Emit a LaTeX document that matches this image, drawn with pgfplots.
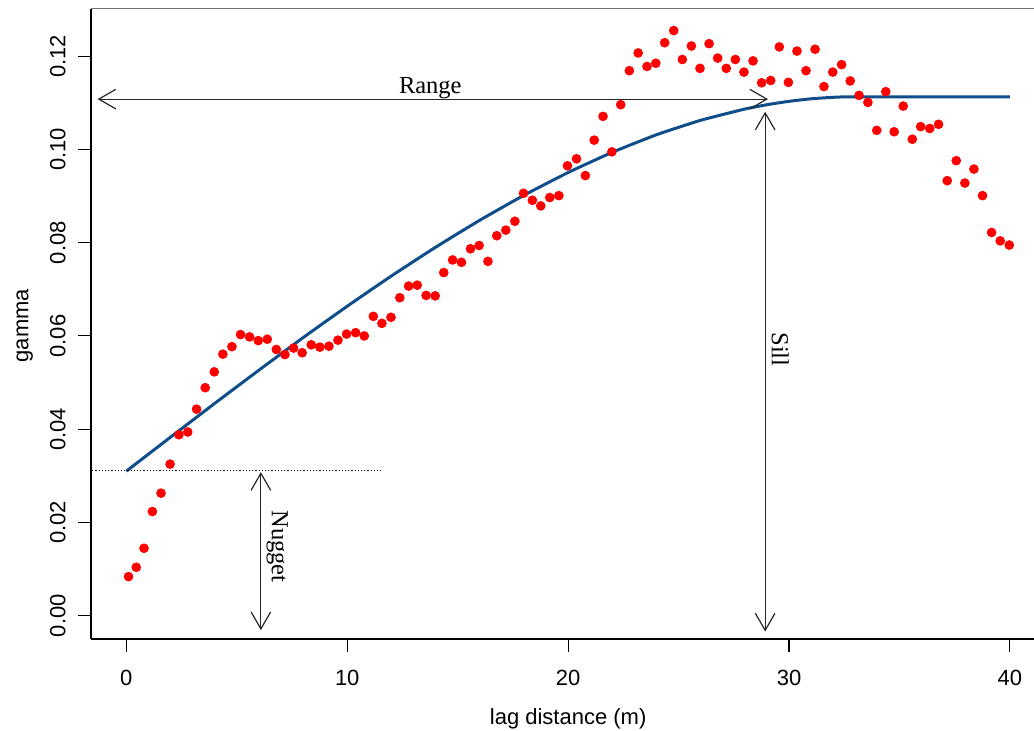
\documentclass[border=0pt]{standalone}
\usepackage{pgfplots}
\pgfplotsset{compat=1.18}
\usepackage{fontspec}
\setmainfont{Liberation Sans}
\newfontfamily\annfont{Liberation Serif}
\usetikzlibrary{arrows.meta}
\definecolor{curvecol}{HTML}{104E8B}
\definecolor{ptcol}{HTML}{FF0000}

\pgfplotstableread{
x y
0.10 0.00838
0.45 0.01038
0.80 0.01446
1.18 0.02234
1.57 0.02628
1.98 0.0325
2.38 0.0388
2.78 0.0394
3.18 0.0443
3.57 0.0489
3.98 0.0523
4.37 0.0561
4.78 0.0577
5.17 0.0603
5.58 0.0598
5.97 0.0590
6.38 0.0593
6.79 0.0571
7.18 0.0560
7.57 0.0574
7.96 0.0564
8.37 0.0581
8.76 0.0576
9.17 0.0578
9.58 0.0591
9.97 0.0604
10.38 0.0607
10.77 0.0600
11.18 0.0642
11.57 0.0627
11.98 0.0640
12.38 0.0682
12.78 0.0707
13.17 0.0709
13.57 0.0687
13.98 0.0686
14.37 0.0736
14.77 0.0763
15.17 0.0758
15.58 0.0787
15.97 0.0794
16.37 0.0760
16.77 0.0815
17.18 0.0827
17.59 0.0846
17.98 0.0906
18.38 0.0891
18.76 0.0879
19.17 0.0897
19.58 0.0901
19.97 0.0965
20.38 0.0980
20.78 0.0944
21.18 0.1020
21.58 0.1071
21.98 0.0995
22.38 0.1096
22.77 0.1169
23.17 0.1207
23.57 0.1178
23.97 0.1185
24.37 0.1229
24.78 0.1255
25.17 0.1193
25.58 0.1222
25.97 0.1174
26.38 0.1227
26.77 0.1196
27.16 0.1174
27.57 0.1193
27.96 0.1166
28.37 0.1190
28.76 0.1143
29.17 0.1148
29.56 0.1220
29.97 0.1144
30.36 0.1211
30.77 0.1169
31.18 0.1215
31.58 0.1135
31.98 0.1166
32.38 0.1182
32.77 0.1147
33.17 0.1116
33.57 0.1101
33.97 0.1041
34.38 0.1124
34.76 0.1038
35.17 0.1093
35.58 0.1022
35.96 0.1049
36.37 0.1045
36.77 0.1054
37.16 0.0933
37.57 0.0976
37.96 0.0928
38.37 0.0958
38.76 0.0901
39.17 0.0822
39.56 0.0804
39.97 0.0795
}\empirical

\pgfplotstableread{
x y
0 0.0310
2 0.03829
4 0.04553
6 0.05266
8 0.05963
10 0.06638
12 0.07287
14 0.07903
16 0.08482
18 0.09018
20 0.09506
22 0.09940
24 0.10316
26 0.10626
28 0.10867
29 0.10960
30 0.11033
31 0.11087
32 0.11119
33 0.11130
40 0.11130
}\model

\begin{document}
\begin{tikzpicture}
\begin{axis}[
  name=ax,
  scale only axis,
  width=471.5pt, height=315pt,
  xmin=-1.6, xmax=41.09,
  ymin=-0.00494, ymax=0.1302,
  clip=false,
  axis lines=left,
  axis line style={-, black, line width=0.9pt},
  tick align=outside,
  major tick length=6.5pt,
  tick style={black, line width=0.55pt},
  xtick={0,10,20,30,40},
  ytick={0,0.02,0.04,0.06,0.08,0.1,0.12},
  /pgf/number format/assume math mode=true,
  tick label style={font=\fontsize{11}{13}\selectfont},
  yticklabel style={/pgf/number format/.cd, fixed, fixed zerofill, precision=2, /tikz/.cd, xshift=-6pt, rotate=90, anchor=south, inner sep=0pt},
  xticklabel style={inner sep=0pt, anchor=north, yshift=-9.15pt},
  xlabel={lag distance (m)},
  ylabel={gamma},
  label style={font=\fontsize{11}{13}\selectfont},
  xlabel style={at={(axis description cs:0.506,-0.1365)}, anchor=base},
  ylabel style={at={(axis description cs:-0.0663,0.497)}, anchor=base},
]
\draw[black!55, line width=0.6pt] (rel axis cs:0,1) -- (rel axis cs:1,1);
\addplot[only marks, mark=*, mark size=2.2pt, color=ptcol] table[x=x,y=y] {\empirical};
\addplot[curvecol, line width=1.5pt, smooth, tension=0.3] table[x=x,y=y] {\model};
\draw[dash pattern=on 0.6pt off 1pt, line width=0.5pt] (axis cs:-1.55,0.03115) -- (axis cs:11.49,0.03115);
\draw[{Straight Barb[length=8.5pt,width=9.8pt]}-{Straight Barb[length=8.5pt,width=9.8pt]}, line width=0.6pt, black!85]
  (axis cs:-1.30,0.1108) -- (axis cs:29.05,0.1108);
\draw[{Straight Barb[length=8.5pt,width=9.8pt]}-{Straight Barb[length=8.5pt,width=9.8pt]}, line width=0.6pt, black!85]
  (axis cs:28.92,-0.0034) -- (axis cs:28.92,0.1081);
\draw[{Straight Barb[length=8.5pt,width=9.8pt]}-{Straight Barb[length=8.5pt,width=9.8pt]}, line width=0.6pt, black!85]
  (axis cs:6.09,-0.0031) -- (axis cs:6.09,0.0308);
\node[anchor=base, font=\annfont\fontsize{12.25}{14}\selectfont] at (axis cs:13.76,0.11207) {Range};
\node[rotate=-90, anchor=base, font=\annfont\fontsize{12.25}{14}\selectfont] at (axis cs:29.22,0.0571) {Sill};
\node[rotate=-90, anchor=base, font=\annfont\fontsize{12.25}{14}\selectfont] at (axis cs:6.59,0.01482) {Nugget};
\end{axis}
\pgfresetboundingbox
\path[use as bounding box] (ax.south west) ++(-45.5pt,-46.15pt) rectangle ++(517pt,365.5pt);
\end{tikzpicture}
\end{document}
